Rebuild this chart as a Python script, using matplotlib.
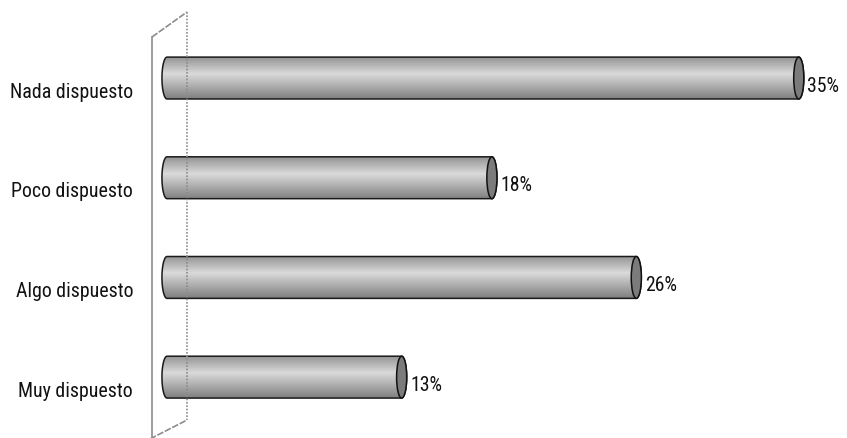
import numpy as np
import matplotlib
matplotlib.use("Agg")
import matplotlib.pyplot as plt
from matplotlib.path import Path
from matplotlib.patches import PathPatch, Ellipse
from matplotlib.lines import Line2D

categorias = ["Nada dispuesto", "Poco dispuesto", "Algo dispuesto", "Muy dispuesto"]
porcentajes = [35, 18, 26, 13]
etiquetas = ["35%", "18%", "26%", "13%"]

plt.rcParams['font.family'] = ['Roboto Condensed', 'Liberation Sans', 'DejaVu Sans']

W, H = 847, 438
fig = plt.figure(figsize=(W / 100, H / 100), dpi=100)
fig.patch.set_facecolor('white')

# eje: cero en x=167 px, 18.05 px por punto porcentual
x0_px, px_por = 167, 18.05
ax = fig.add_axes([0, 0, 1, 1])
paso = 99.7
ax.axis('off')

# pared lateral en perspectiva
gris = '#8c8c8c'
fig.add_artist(Line2D([152 / W, 152 / W], [1 - 37 / H, 0], color=gris, lw=1.2))
fig.add_artist(Line2D([187 / W, 187 / W], [1 - 12 / H, 1 - 420 / H], color=gris, lw=1.2, ls=(0, (1, 1))))
fig.add_artist(Line2D([152 / W, 187 / W], [1 - 37 / H, 1 - 12 / H], color=gris, lw=1.2, ls=(0, (4, 1))))
fig.add_artist(Line2D([148 / W, 187 / W], [1 - 440 / H, 1 - 420 / H], color=gris, lw=1.2, ls=(0, (4, 1))))

a, b = 0.28, 0.21  # semiejes de las tapas
desp = -0.14        # los cilindros quedan algo por encima de la etiqueta
grad = np.concatenate([np.linspace(0.58, 0.85, 40), np.linspace(0.85, 0.50, 60)])[:, None]

for i, (v, txt) in enumerate(zip(porcentajes, etiquetas)):
    yc = i + desp
    t1 = np.linspace(np.pi / 2, 3 * np.pi / 2, 40)
    t2 = np.linspace(-np.pi / 2, np.pi / 2, 40)
    xs = np.concatenate([a * np.cos(t1), v + a * np.cos(t2)])
    ys = np.concatenate([yc - b * np.sin(t1), yc - b * np.sin(t2)])
    verts = np.column_stack([xs, ys])
    verts = np.vstack([verts, verts[:1]])
    cuerpo = PathPatch(Path(verts, closed=True), facecolor='none', edgecolor='#1a1a1a', lw=1.1, zorder=3)
    ax.add_patch(cuerpo)
    img = ax.imshow(grad, cmap='gray', vmin=0, vmax=1, aspect='auto',
                    extent=[-a, v + a, yc + b, yc - b], zorder=2, interpolation='bilinear')
    img.set_clip_path(cuerpo)
    tapa = Ellipse((v, yc), 2 * a, 2 * b, facecolor='#7b7b7b', edgecolor='#111111', lw=1.1, zorder=4)
    ax.add_patch(tapa)
    ax.text(v + a + 0.2, i - 0.06, txt, ha='left', va='center', fontsize=14.2, color='#111111')
    ax.text(-34 / px_por, i, categorias[i], ha='right', va='center', fontsize=14.3, color='#111111')

ax.set_xlim(-x0_px / px_por, (W - x0_px) / px_por)
ax.set_ylim((H - 92) / paso, -92 / paso)
fig.savefig('out.png', dpi=100)
